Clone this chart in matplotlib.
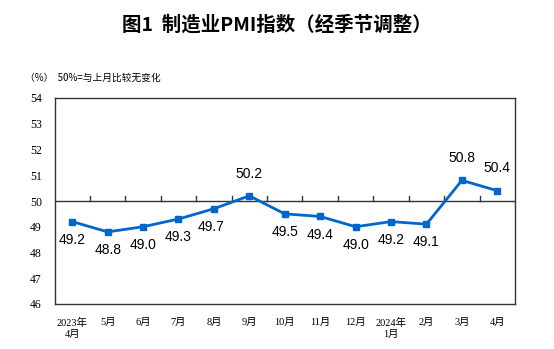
import matplotlib
matplotlib.use("Agg")
import matplotlib.pyplot as plt
import numpy as np

months = ["2023年\n4月", "5月", "6月", "7月", "8月", "9月", "10月", "11月", "12月",
          "2024年\n1月", "2月", "3月", "4月"]
pmi = [49.2, 48.8, 49.0, 49.3, 49.7, 50.2, 49.5, 49.4, 49.0, 49.2, 49.1, 50.8, 50.4]
yticks = [46, 47, 48, 49, 50, 51, 52, 53, 54]

serif = ['Liberation Serif', 'Noto Sans CJK SC']
cjk = ['Noto Sans CJK SC', 'DejaVu Sans']

fig = plt.figure(figsize=(5.54, 3.49), dpi=100)
ax = fig.add_axes([54.5/554, 1-304/349, (515-54.5)/554, (304-98)/349])

x = np.arange(len(pmi))
color = '#0066CC'
ax.plot(x, pmi, color=color, lw=2, marker='s', ms=5, mfc=color, mec=color, zorder=3)

ax.set_xlim(-0.5, len(pmi)-0.5)
ax.set_ylim(46, 54)
ax.set_yticks(yticks)
ax.set_yticklabels([str(v) for v in yticks], family=serif, fontsize=8.5)
ax.tick_params(axis='y', length=0, pad=9)
ax.set_xticks(x)
ax.set_xticklabels(months, family=serif, fontsize=7.5, linespacing=1.3, va='top')
ax.tick_params(axis='x', length=0, pad=10)

for s in ax.spines.values():
    s.set_color('#333333')
    s.set_linewidth(1)

# 50 baseline with upward ticks at category boundaries
ax.axhline(50, color='#333333', lw=1, zorder=2)
for b in np.arange(0.5, len(pmi)-0.5, 1):
    ax.plot([b, b], [50, 50.2], color='#333333', lw=1, zorder=2)

for xi, v in zip(x, pmi):
    if v > 50:
        ax.annotate(f"{v:.1f}", (xi, v), xytext=(0, 11), textcoords='offset points',
                    ha='center', va='bottom', fontsize=10, family='Liberation Sans')
    else:
        ax.annotate(f"{v:.1f}", (xi, v), xytext=(-2 if v == 49.7 else 0, -8), textcoords='offset points',
                    ha='center', va='top', fontsize=10, family='Liberation Sans')

fig.text(0.5, 1-25/349, "图1  制造业PMI指数（经季节调整）", ha='center', va='center',
         fontsize=14, fontweight='bold', family=cjk)
fig.text(25/554, 1-78/349, "（%）  50%=与上月比较无变化", ha='left', va='center',
         fontsize=7, family=cjk)

fig.savefig("out.png", dpi=100)
